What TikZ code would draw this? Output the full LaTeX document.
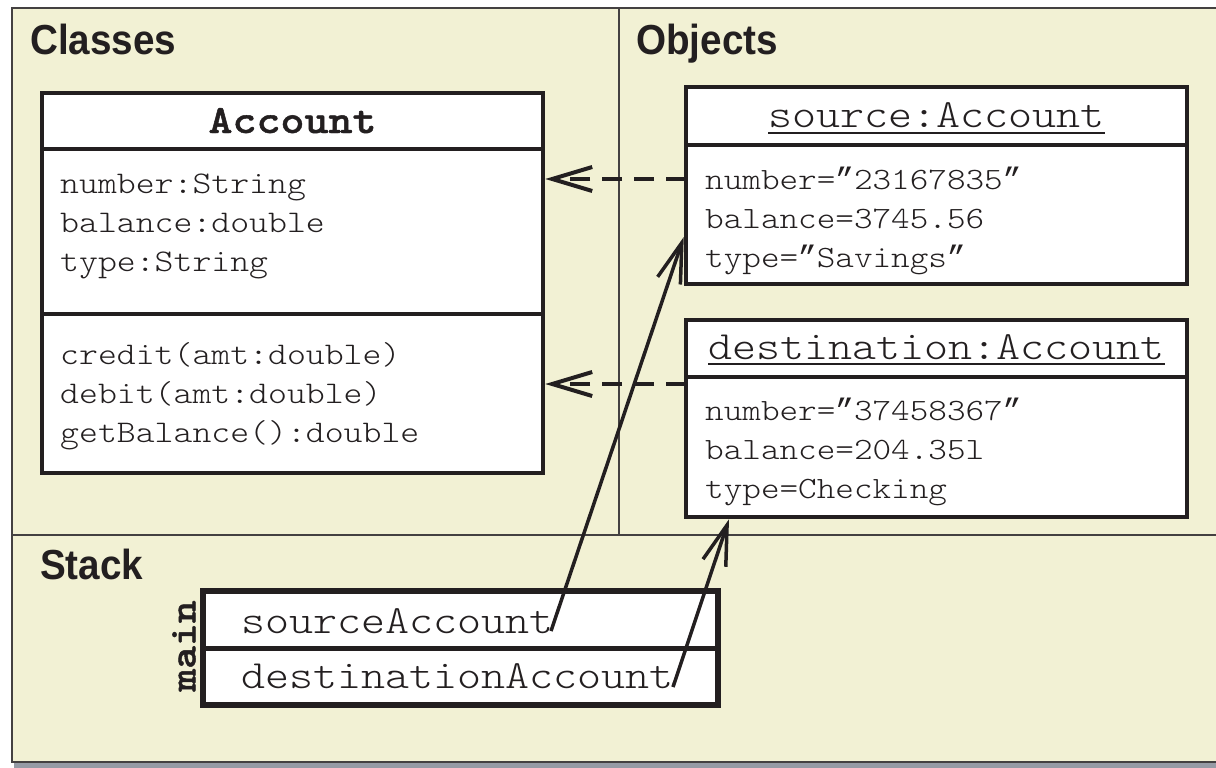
\documentclass[tikz,border=0pt]{standalone}
\usepackage{fontspec}
\setmainfont{Liberation Sans}
\newfontfamily\secf[FakeStretch=0.92]{Liberation Sans}
\newfontfamily\monof[FakeStretch=1.143,BoldFont=lmmonolt10-bold.otf,BoldFeatures={FakeBold=1.2}]{lmmonolt10-regular.otf}
\newfontfamily\quotef{Liberation Mono}
\newcommand{\cq}{{\quotef ”}}
\usetikzlibrary{arrows.meta}
\definecolor{beige}{RGB}{242,241,212}
\definecolor{ink}{RGB}{35,31,32}
\definecolor{shadowgray}{RGB}{150,155,165}
\begin{document}
\begin{tikzpicture}[x=1pt,y=-1pt,
  section/.style={anchor=base west,inner sep=0,text=ink,font=\secf\fontsize{42}{42}\selectfont\bfseries},
  attr/.style={anchor=base west,inner sep=0,text=ink,font=\monof\fontsize{31.5}{31.5}\selectfont},
  oattr/.style={anchor=base west,inner sep=0,text=ink,font=\monof\fontsize{31}{31}\selectfont},
  hdr/.style={anchor=base,inner sep=0,text=ink,font=\monof\fontsize{40}{40}\selectfont},
  stk/.style={anchor=base west,inner sep=0,text=ink,font=\monof\fontsize{40}{40}\selectfont},
  umlbox/.style={draw=ink,fill=white,line width=4.5pt,inner sep=0,
     preaction={fill=shadowgray,transform canvas={shift={(2pt,-2pt)}}}},
  sep/.style={draw=ink,line width=4.5pt},
  divider/.style={draw=ink!85,line width=1.5pt},
  dep/.style={draw=ink,line width=4pt,dash pattern=on 20pt off 12pt,
     -{Straight Barb[length=40pt,width=24pt]}},
  ref/.style={draw=ink,line width=3.5pt,
     -{Straight Barb[length=40pt,width=24pt]}}
]
\useasboundingbox (0,0) rectangle (1216,768);
% outer frame
\fill[shadowgray] (14,12) rectangle (1222,768);
\draw[fill=beige,draw=ink!85,line width=1.5pt] (12,8) rectangle (1224,762);
\draw[divider] (619,8) -- (619,535);
\draw[divider] (12,535) -- (1224,535);

% section labels
\node[section] (lclasses) at (30,55) {Classes};
\node[section] (lobjects) at (636,55) {Objects};
\node[section] (lstack) at (40,579) {Stack};

% class box
\node[umlbox,minimum width=501pt,minimum height=380pt] (cls) at (292.5,283) {};
\draw[sep] (42,149) -- (543,149);
\draw[sep] (42,314) -- (543,314);
\node[hdr] (clsname) at (292.5,133) {\bfseries Account};
\node[attr] (c1) at (60,193) {number:String};
\node[attr] (c2) at (60,232) {balance:double};
\node[attr] (c3) at (60,271) {type:String};
\node[attr] (m1) at (60,364) {credit(amt:double)};
\node[attr] (m2) at (60,403) {debit(amt:double)};
\node[attr] (m3) at (60,442) {getBalance():double};

% source object
\node[umlbox,minimum width=501pt,minimum height=197pt] (src) at (936.5,185.5) {};
\draw[sep] (686,145) -- (1187,145);
\node[hdr] (srcname) at (936.5,128) {source:Account};
\draw[draw=ink,line width=1.8pt] ([yshift=-5pt]srcname.base west) -- ([yshift=-5pt]srcname.base east);
\node[oattr] (s1) at (705,189) {number=\cq23167835\cq};
\node[oattr] (s2) at (705,228) {balance=3745.56};
\node[oattr] (s3) at (705,267) {type=\cq Savings\cq};

% destination object
\node[umlbox,minimum width=501pt,minimum height=197pt] (dst) at (936.5,418.5) {};
\draw[sep] (686,377) -- (1187,377);
\node[hdr] (dstname) at (936.5,359) {destination:Account};
\draw[draw=ink,line width=1.8pt] ([yshift=-5pt]dstname.base west) -- ([yshift=-5pt]dstname.base east);
\node[oattr] (t1) at (705,420) {number=\cq37458367\cq};
\node[oattr] (t2) at (705,459) {balance=204.35l};
\node[oattr] (t3) at (705,498) {type=Checking};

% stack frame
\node[umlbox,line width=6pt,minimum width=515pt,minimum height=114pt] (frm) at (460.5,648) {};
\draw[sep,line width=5pt] (203,648) -- (718,648);
\node[inner sep=0,text=ink,rotate=90,font=\monof\bfseries\fontsize{38}{38}\selectfont] (mainlbl) at (184,646) {main};
\node[stk] (sa) at (241,633) {sourceAccount};
\node[stk] (da) at (241,688) {destinationAccount};

% dependency arrows
\coordinate (d1) at (686,179);
\coordinate (d2) at (686,384);
\draw[dep] (d1) -- (cls.east |- d1);
\draw[dep] (d2) -- (cls.east |- d2);

% reference arrows
\coordinate (a1s) at (551,631);
\coordinate (a1e) at (686,237);
\coordinate (a2s) at (673,687);
\coordinate (a2e) at (729,515);
\draw[ref] (a1s) -- (src.west |- a1e);
\draw[ref] (a2s) -- (dst.south -| a2e);
\end{tikzpicture}
\end{document}
